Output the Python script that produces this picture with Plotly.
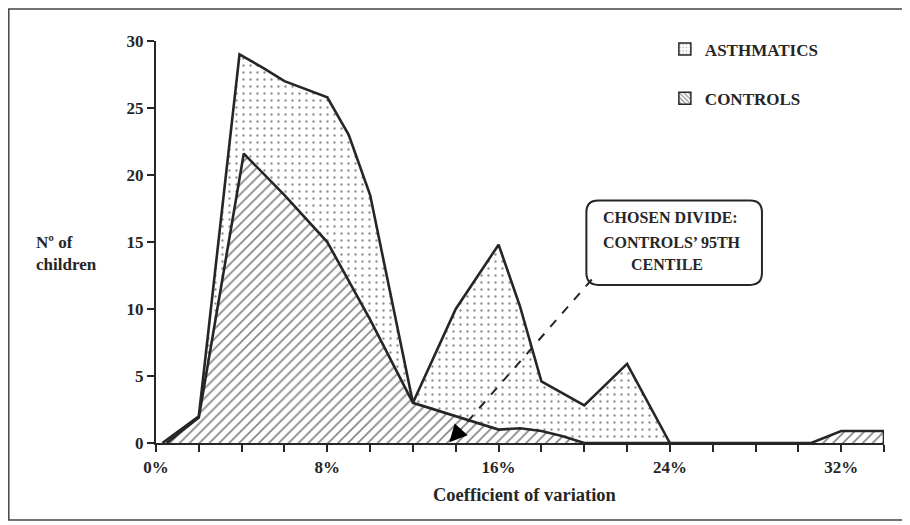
import plotly.graph_objects as go

# Coefficient of variation (%) and number of children
asth_x = [0.3, 2, 3.9, 5, 6, 7, 8, 9, 10, 12, 14, 16, 17, 18, 20, 22, 24]
asth_y = [0, 2, 29, 28, 27, 26.4, 25.8, 23, 18.5, 3, 10, 14.8, 10.2, 4.6, 2.8, 5.9, 0]

ctrl_x = [0.5, 2, 4.1, 6, 8, 10, 12, 14, 16, 17, 18, 19, 20, 30.6, 32, 34, 34]
ctrl_y = [0, 1.9, 21.6, 18.5, 15, 9.2, 3, 2, 1, 1.1, 0.9, 0.5, 0, 0, 0.9, 0.9, 0]

x_tickvals = list(range(0, 35, 2))
x_ticktext = [f"{v}%" if v % 8 == 0 else "" for v in x_tickvals]
y_tickvals = [0, 5, 10, 15, 20, 25, 30]

chosen_divide = 13.7
note_lines = ["CHOSEN DIVIDE:", "CONTROLS\u2019 95TH", "CENTILE"]

FONT = "Liberation Serif"
INK = "#262626"
FS = 17

dots = dict(shape=".", size=7, solidity=0.09, fgcolor="#222222", bgcolor="white")
hatch = dict(shape="/", size=7, solidity=0.25, fgcolor="#111111", bgcolor="white")

fig = go.Figure()
fig.add_trace(go.Scatter(
    x=asth_x, y=asth_y, name="ASTHMATICS", mode="lines", fill="tozeroy",
    line=dict(color=INK, width=2.6), fillcolor="white", fillpattern=dots,
    showlegend=False, cliponaxis=False,
))
fig.add_trace(go.Scatter(
    x=ctrl_x, y=ctrl_y, name="CONTROLS", mode="lines", fill="tozeroy",
    line=dict(color=INK, width=2.6), fillcolor="white", fillpattern=hatch,
    showlegend=False, cliponaxis=False,
))
# legend keys (box swatches)
fig.add_trace(go.Bar(x=[None], y=[None], name="ASTHMATICS", legendgroup="a",
                     marker=dict(color="white",
                                 pattern=dict(shape=".", size=4, solidity=0.15,
                                              fgcolor="#222222", bgcolor="white"),
                                 line=dict(color=INK, width=1.5))))
fig.add_trace(go.Bar(x=[None], y=[None], name="CONTROLS", legendgroup="b",
                     marker=dict(color="white",
                                 pattern=dict(shape="\\", size=4, solidity=0.35,
                                              fgcolor="#111111", bgcolor="white"),
                                 line=dict(color=INK, width=1.5))))

# rounded note box (data coordinates)
bx0, bx1, by0, by1 = 20.1, 28.3, 11.8, 18.1
rx, ry = 0.55, 0.9
path = (f"M{bx0+rx},{by1} L{bx1-rx},{by1} Q{bx1},{by1} {bx1},{by1-ry} "
        f"L{bx1},{by0+ry} Q{bx1},{by0} {bx1-rx},{by0} L{bx0+rx},{by0} "
        f"Q{bx0},{by0} {bx0},{by0+ry} L{bx0},{by1-ry} Q{bx0},{by1} {bx0+rx},{by1} Z")
fig.add_shape(type="path", path=path, xref="x", yref="y",
              line=dict(color=INK, width=2), fillcolor="white", layer="above")

# dashed pointer
fig.add_shape(type="line", xref="x", yref="y", x0=bx0 + 0.25, y0=by0 + 0.4,
              x1=chosen_divide + 0.55, y1=1.05,
              line=dict(color=INK, width=2, dash="dash"), layer="above")
fig.add_annotation(x=chosen_divide, y=0.05, ax=chosen_divide + 0.6, ay=1.1,
                   axref="x", ayref="y", xref="x", yref="y", text="",
                   showarrow=True, arrowhead=2, arrowsize=1.6, arrowwidth=2.2,
                   arrowcolor="black")

note_y = [16.8, 15.0, 13.35]
note_x = [20.78, 20.78, 22.1]
for t, nx, ny in zip(note_lines, note_x, note_y):
    fig.add_annotation(x=nx, y=ny, xref="x", yref="y", text=t, showarrow=False,
                       xanchor="left", yanchor="middle",
                       font=dict(family=FONT, size=16, color=INK, weight="bold"))

# axis titles
fig.add_annotation(x=-0.1676, y=0.4502, xref="paper", yref="paper",
                   text="N\u00ba of<br>children", showarrow=False, align="left",
                   xanchor="left", yanchor="middle",
                   font=dict(family=FONT, size=FS, color=INK, weight="bold"))
fig.add_annotation(x=0.5069, y=-0.1232, xref="paper", yref="paper",
                   text="Coefficient of variation", showarrow=False,
                   xanchor="center", yanchor="middle",
                   font=dict(family=FONT, size=18.5, color=INK, weight="bold"))

# outer frame
fig.add_shape(type="rect", xref="paper", yref="paper",
              x0=-0.2022, x1=1.0302, y0=-0.1825, y1=1.0284,
              line=dict(color="#444444", width=1.5), layer="below")

fig.update_layout(
    width=902, height=517,
    margin=dict(l=148, r=26, t=13, b=82, autoexpand=False),
    paper_bgcolor="white", plot_bgcolor="white",
    font=dict(family=FONT, size=FS, color=INK, weight="bold"),
    showlegend=True,
    legend=dict(x=0.699, y=0.975, xanchor="left", yanchor="top",
                traceorder="grouped", tracegroupgap=24,
                font=dict(family=FONT, size=FS, color=INK, weight="bold"),
                bgcolor="rgba(0,0,0,0)"),
    xaxis=dict(range=[0, 34], tickvals=x_tickvals, ticktext=x_ticktext,
               ticks="outside", ticklen=7, tickwidth=2, tickcolor=INK,
               showline=True, linecolor=INK, linewidth=2.2, showgrid=False,
               zeroline=False, fixedrange=True, automargin=False),
    yaxis=dict(range=[0, 30], domain=[0, 402 / 422], tickvals=y_tickvals,
               ticks="outside", ticklen=7, tickwidth=2, tickcolor=INK,
               showline=True, linecolor=INK, linewidth=2.2, showgrid=False,
               zeroline=False, fixedrange=True, automargin=False),
)

fig.write_html("out.html")
